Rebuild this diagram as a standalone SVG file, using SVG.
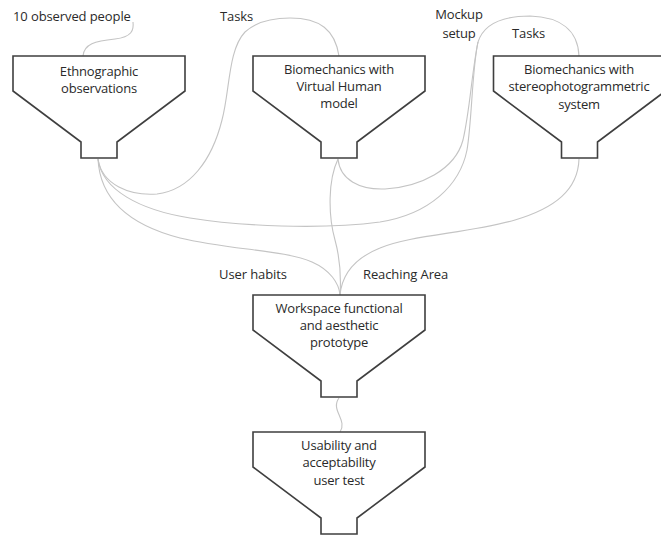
<svg xmlns="http://www.w3.org/2000/svg" xmlns:xlink="http://www.w3.org/1999/xlink" width="661" height="536" viewBox="0 0 661 536">
<style>
.f{fill:#fff;stroke:#3f3f3f;stroke-width:1.6;stroke-linejoin:miter}
.c{fill:none;stroke:#c4c4c4;stroke-width:1.1}
.t{font-family:"Open Sans","Noto Sans",sans-serif;font-size:13px;fill:#2a2a2a;text-anchor:middle;letter-spacing:-0.2px}
.l{font-family:"Open Sans","Noto Sans",sans-serif;font-size:13px;fill:#2a2a2a;letter-spacing:-0.1px}
</style>
<defs>
<path id="funnel" d="M-86,0 H86 V35 L18,86 V102 H-18 V86 L-86,35 Z"/>
</defs>
<rect width="661" height="536" fill="#fff"/>
<g id="connectors">
<path class="c" d="M133,22 C134,30 132,37 115,39 C95,41 84,44 83,56"/>
<path class="c" d="M98,159 C102,185 130,196 157,194 C190,190 212,160 222,120 C230,90 228,50 245,32 C258,20 275,18 290,18 C320,18 335,30 339,56"/>
<path class="c" d="M98,159 C102,190 140,210 190,218 C240,226 320,230 380,222 C430,214 460,185 467,150 C472,120 472,70 478,42"/>
<path class="c" d="M338,159 C340,180 360,190 385,189 C420,187 455,170 463,140 C470,110 472,70 478,42"/>
<path class="c" d="M478,42 C485,20 510,16 530,16 C560,17 578,30 579,56"/>
<path class="c" d="M98,159 C100,200 130,225 180,238 C230,250 285,250 312,262 C330,270 339,283 340,295"/>
<path class="c" d="M338,159 C328,180 328,215 335,240 C341,262 341,280 340,295"/>
<path class="c" d="M579,159 C578,190 555,208 515,220 C470,233 410,235 380,248 C355,258 342,275 340,295"/>
<path class="c" d="M339,398 C330,410 348,420 340,432"/>
</g>
<g id="labels">
<text class="l" x="13" y="21">10 observed people</text>
<text class="l" x="220" y="21">Tasks</text>
<text class="t" x="459" y="19">Mockup</text>
<text class="t" x="459" y="37.5">setup</text>
<text class="l" x="512" y="38">Tasks</text>
<text class="l" x="219" y="279">User habits</text>
<text class="l" x="363" y="279">Reaching Area</text>
</g>
<g id="ethnographic">
<use href="#funnel" xlink:href="#funnel" class="f" x="99" y="56"/>
<text class="t" x="99" y="76">Ethnographic</text>
<text class="t" x="99" y="93">observations</text>
</g>
<g id="virtual-human">
<use href="#funnel" xlink:href="#funnel" class="f" x="339" y="56"/>
<text class="t" x="339" y="74">Biomechanics with</text>
<text class="t" x="339" y="91">Virtual Human</text>
<text class="t" x="339" y="108">model</text>
</g>
<g id="stereophotogrammetric">
<use href="#funnel" xlink:href="#funnel" class="f" x="579.5" y="56"/>
<text class="t" x="579" y="74">Biomechanics with</text>
<text class="t" x="579" y="91">stereophotogrammetric</text>
<text class="t" x="579" y="109">system</text>
</g>
<g id="prototype">
<use href="#funnel" xlink:href="#funnel" class="f" x="339" y="295"/>
<text class="t" x="339" y="313">Workspace functional</text>
<text class="t" x="339" y="330">and aesthetic</text>
<text class="t" x="339" y="347">prototype</text>
</g>
<g id="user-test">
<use href="#funnel" xlink:href="#funnel" class="f" x="339" y="432"/>
<text class="t" x="339" y="450">Usability and</text>
<text class="t" x="339" y="467">acceptability</text>
<text class="t" x="339" y="485">user test</text>
</g>
</svg>
